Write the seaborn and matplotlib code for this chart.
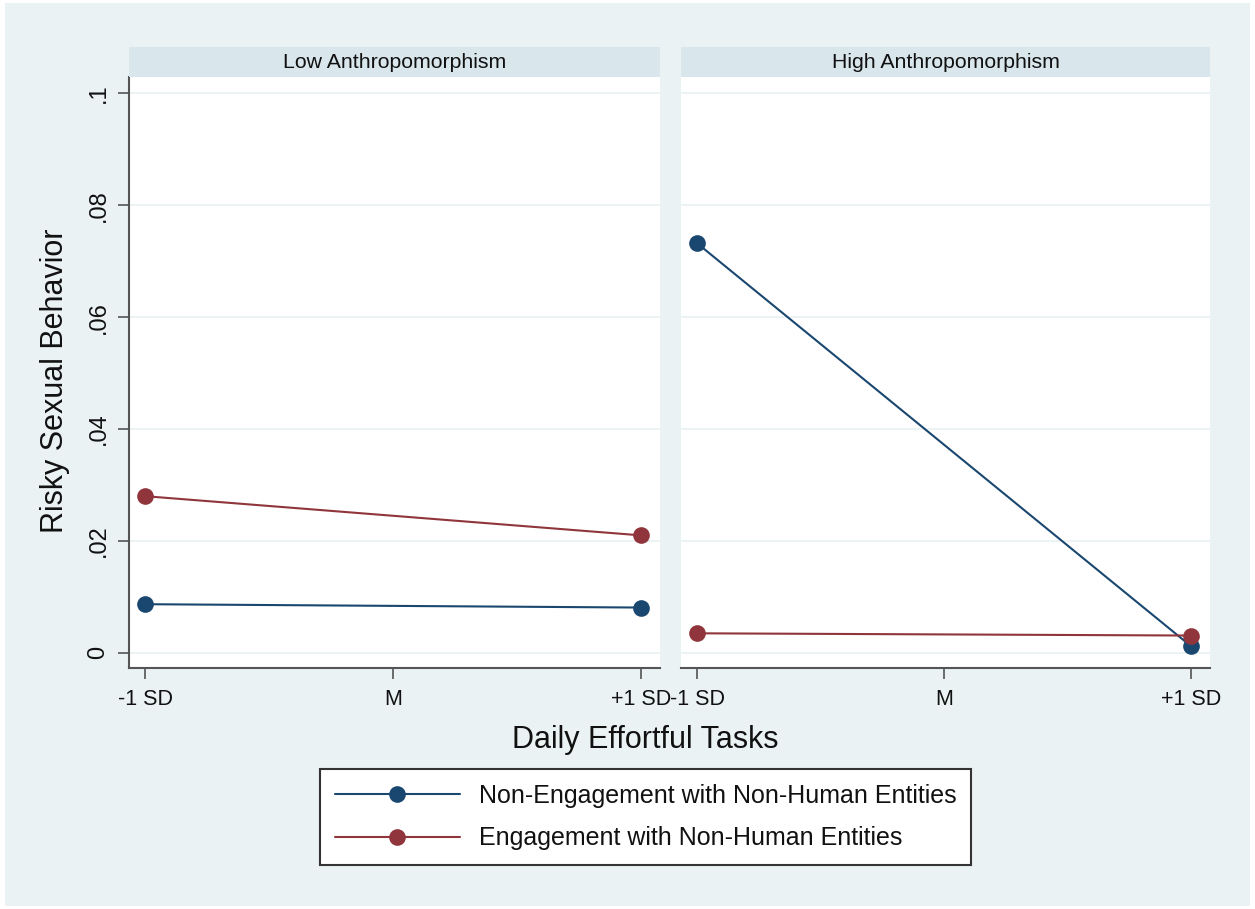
import matplotlib
matplotlib.use("Agg")
import matplotlib.pyplot as plt
import seaborn as sns
import pandas as pd
from matplotlib.patches import Rectangle
from matplotlib.lines import Line2D

sns.set_theme(style="white")
plt.rcParams['font.family'] = ['Liberation Sans', 'DejaVu Sans']

panels = ["Low Anthropomorphism", "High Anthropomorphism"]
x_labels = ["-1 SD", "M", "+1 SD"]
groups = ["Non-Engagement with Non-Human Entities", "Engagement with Non-Human Entities"]
# values at -1 SD and +1 SD
low_nonengage = [0.0087, 0.0081]
low_engage = [0.0280, 0.0210]
high_nonengage = [0.0732, 0.0012]
high_engage = [0.0035, 0.0031]
y_ticks = [0, 0.02, 0.04, 0.06, 0.08, 0.1]
y_tick_labels = ["0", ".02", ".04", ".06", ".08", ".1"]

rows = []
for panel, ne, e in [(panels[0], low_nonengage, low_engage), (panels[1], high_nonengage, high_engage)]:
    for xi, v in zip([0, 2], ne):
        rows.append(dict(panel=panel, x=xi, y=v, group=groups[0]))
    for xi, v in zip([0, 2], e):
        rows.append(dict(panel=panel, x=xi, y=v, group=groups[1]))
df = pd.DataFrame(rows)

BG = "#EAF2F3"
STRIP = "#D9E6EB"
TXT = "#111111"
palette = {groups[0]: "#1A476F", groups[1]: "#90353B"}

W, H = 1255, 909
fig = plt.figure(figsize=(W / 100, H / 100), dpi=100)
fig.patch.set_facecolor("white")
fig.add_artist(Rectangle((5 / W, 3 / H), (W - 10) / W, (H - 6) / H, transform=fig.transFigure,
                         facecolor=BG, edgecolor="none", zorder=-10))

def fx(px):
    return px / W

def fy(py):
    return 1 - py / H

ax_top, ax_bot = 77, 668
axes_px = [(129, 660), (681, 1210)]
axes = []
for i, (l, r) in enumerate(axes_px):
    ax = fig.add_axes([fx(l), fy(ax_bot), fx(r - l), (ax_bot - ax_top) / H])
    axes.append(ax)
    fig.add_artist(Rectangle((fx(l), fy(ax_top)), fx(r - l), 30 / H, transform=fig.transFigure,
                             facecolor=STRIP, edgecolor="none"))
    fig.text(fx((l + r) / 2), fy(62), panels[i], ha="center", va="center", fontsize=15.3, color=TXT)

for i, ax in enumerate(axes):
    sub = df[df.panel == panels[i]]
    sns.lineplot(data=sub, x="x", y="y", hue="group", hue_order=groups, palette=palette,
                 marker="o", markersize=12, markeredgewidth=0, linewidth=1.5, ax=ax, legend=False)
    ax.set_facecolor("white")
    ax.set_xlim(-0.065, 2.077)
    ax.set_ylim(-0.0027, 0.1029)
    ax.set_yticks(y_ticks)
    ax.set_xticks([0, 1, 2])
    ax.set_xticklabels(x_labels, fontsize=15.5, color=TXT)
    for yt in y_ticks:
        ax.axhline(yt, color=BG, lw=1.3, zorder=0)
    ax.set_xlabel("")
    ax.set_ylabel("")
    for s in ["top", "right"]:
        ax.spines[s].set_visible(False)
    ax.spines["bottom"].set_color("#555555")
    ax.spines["bottom"].set_linewidth(1.5)
    ax.tick_params(axis="x", length=8, width=1.2, color="#555555", pad=7, bottom=True)
    if i == 0:
        ax.spines["left"].set_color("#555555")
        ax.spines["left"].set_linewidth(1.5)
        ax.set_yticklabels(y_tick_labels, rotation=90, va="center", fontsize=17, color=TXT)
        ax.tick_params(axis="y", length=8, width=1.2, color="#555555", pad=6, left=True)
    else:
        ax.spines["left"].set_visible(False)
        ax.set_yticklabels([])
        ax.tick_params(axis="y", length=0, left=False)

fig.text(fx(55), fy(381), "Risky Sexual Behavior", rotation=90, ha="center", va="center",
         fontsize=22, color=TXT)
fig.text(fx(645), fy(740), "Daily Effortful Tasks", ha="center", va="center",
         fontsize=22, color=TXT)

handles = [Line2D([], [], color=palette[g], marker="o", markersize=12, markeredgewidth=0, lw=1.5)
           for g in groups]
leg = fig.legend(handles, groups, loc="center", bbox_to_anchor=(fx(645.5), fy(817)),
                 frameon=True, fontsize=18, handlelength=5.0, borderpad=0.6, labelspacing=0.75,
                 handletextpad=0.75, borderaxespad=0, fancybox=False, edgecolor="#333333", framealpha=1)
leg.get_frame().set_linewidth(1.5)
for t in leg.get_texts():
    t.set_color(TXT)

fig.savefig("out.png", dpi=100, facecolor=fig.get_facecolor())
